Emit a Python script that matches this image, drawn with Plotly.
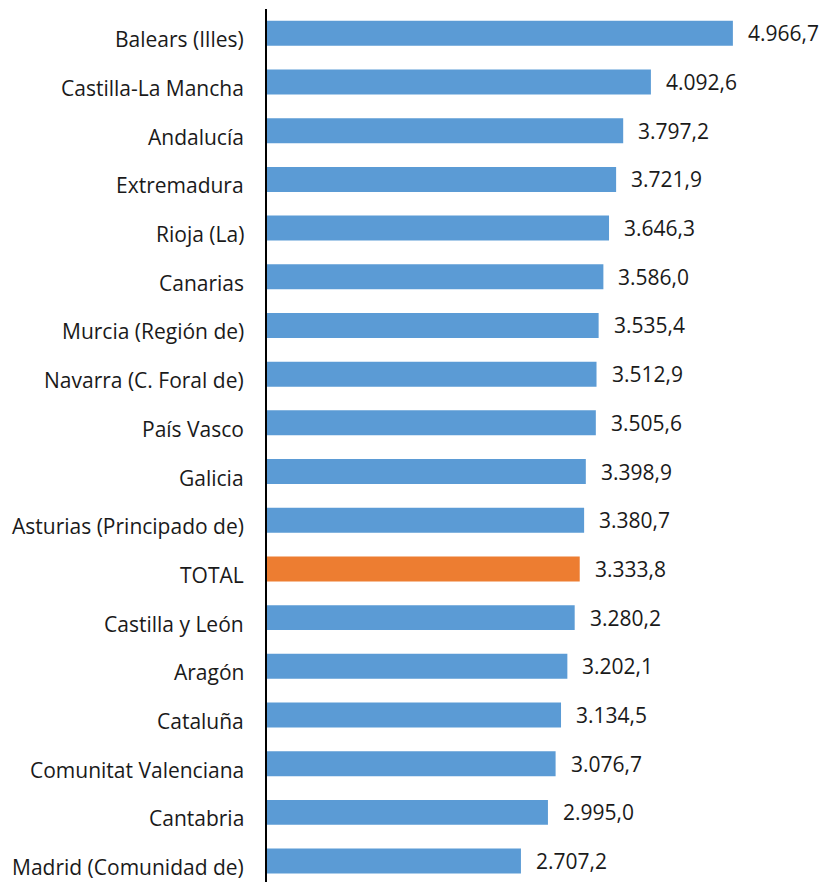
import plotly.graph_objects as go

categories = ["Balears (Illes)", "Castilla-La Mancha", "Andalucía", "Extremadura", "Rioja (La)",
              "Canarias", "Murcia (Región de)", "Navarra (C. Foral de)", "País Vasco", "Galicia",
              "Asturias (Principado de)", "TOTAL", "Castilla y León", "Aragón", "Cataluña",
              "Comunitat Valenciana", "Cantabria", "Madrid (Comunidad de)"]
values = [4966.7, 4092.6, 3797.2, 3721.9, 3646.3, 3586.0, 3535.4, 3512.9, 3505.6, 3398.9,
          3380.7, 3333.8, 3280.2, 3202.1, 3134.5, 3076.7, 2995.0, 2707.2]

def fmt(v):
    s = f"{v:,.1f}"
    return s.replace(",", "X").replace(".", ",").replace("X", ".")

labels = [fmt(v) for v in values]
colors = ["#ED7D31" if c == "TOTAL" else "#5B9BD5" for c in categories]

cats_rev = categories[::-1]
vals_rev = values[::-1]
cols_rev = colors[::-1]
labs_rev = labels[::-1]

font_family = "'Open Sans', 'Noto Sans', sans-serif"
txt_font = dict(family=font_family, size=21, color="#1a1a1a")

fig = go.Figure(go.Bar(
    x=vals_rev, y=cats_rev, orientation="h",
    marker=dict(color=cols_rev, line=dict(width=0)),
    hoverinfo="skip",
))

for c, v, t in zip(cats_rev, vals_rev, labs_rev):
    # value label
    fig.add_annotation(x=v, y=c, text=t, showarrow=False, xanchor="left", xshift=13,
                       font=txt_font)
    # category label
    fig.add_annotation(x=0, xref="paper", y=c, text=c, showarrow=False, xanchor="right",
                       xshift=-21, yshift=-6, font=txt_font)

fig.update_layout(
    width=819, height=874,
    margin=dict(l=259, r=0, t=1, b=0),
    plot_bgcolor="white", paper_bgcolor="white",
    bargap=0.487,
    showlegend=False,
    font=txt_font,
)
fig.update_xaxes(range=[0, 5970], showgrid=False, zeroline=False, showticklabels=False,
                 showline=False, ticks="")
fig.update_yaxes(type="category", categoryorder="array", categoryarray=cats_rev,
                 range=[-0.43, 17.5], showgrid=False, zeroline=False,
                 showline=True, linecolor="black", linewidth=1.5, ticks="",
                 showticklabels=False)

fig.write_html("out.html")
